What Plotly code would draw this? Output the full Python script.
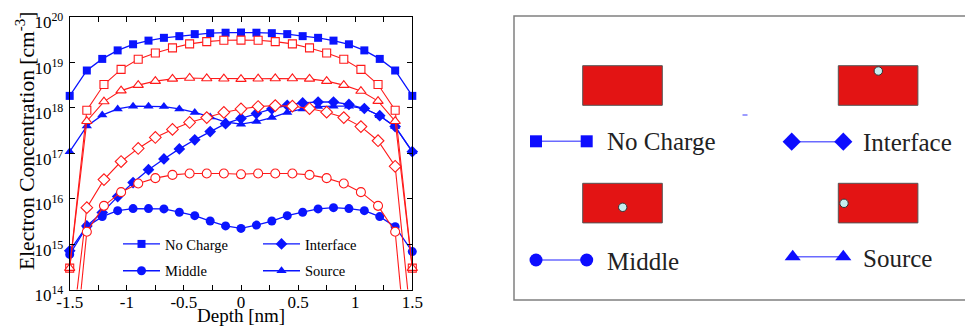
import plotly.graph_objects as go

# ---------------- data ----------------
x_blue = [-1.5, -1.35, -1.215, -1.08, -0.945, -0.81, -0.675, -0.54, -0.405, -0.27, -0.135, 0.0,
          0.135, 0.27, 0.405, 0.54, 0.675, 0.81, 0.945, 1.08, 1.215, 1.35, 1.5]
x_red = [-1.5, -1.35, -1.2, -1.05, -0.9, -0.75, -0.6, -0.45, -0.3, -0.15, 0.0,
         0.15, 0.3, 0.45, 0.6, 0.75, 0.9, 1.05, 1.2, 1.35, 1.5]

blue_no_charge = [1.8e18, 6.5e18, 1.17e19, 1.8e19, 2.45e19, 2.95e19, 3.4e19, 3.7e19, 4.1e19, 4.3e19, 4.4e19, 4.45e19,
                  4.4e19, 4.3e19, 4.1e19, 3.7e19, 3.4e19, 2.95e19, 2.45e19, 1.8e19, 1.17e19, 6.5e18, 1.8e18]
blue_middle = [5.9e14, 2.4e15, 4.0e15, 5.4e15, 6.0e15, 6.0e15, 5.9e15, 5.0e15, 4.2e15, 3.2e15, 2.5e15, 2.2e15,
               2.6e15, 3.2e15, 4.2e15, 5.0e15, 5.9e15, 6.3e15, 6.0e15, 5.4e15, 4.0e15, 2.4e15, 6.8e14]
blue_interface = [7.1e14, 2.5e15, 4.9e15, 1.1e16, 2.24e16, 4.3e16, 7.4e16, 1.23e17, 1.95e17, 2.95e17, 4.4e17, 5.75e17,
                  7.4e17, 9.3e17, 1.12e18, 1.26e18, 1.32e18, 1.32e18, 1.17e18, 9.5e17, 6.6e17, 3.8e17, 1.07e17]
blue_source = [1.07e17, 3.9e17, 6.8e17, 9.3e17, 1.07e18, 1.07e18, 1.05e18, 9.3e17, 7.8e17, 6.2e17, 4.8e17, 4.3e17,
               4.9e17, 6.0e17, 7.8e17, 9.3e17, 1.05e18, 1.07e18, 1.07e18, 9.5e17, 6.6e17, 3.8e17, 1.07e17]

red_no_charge = [2.95e14, 8.7e17, 3.2e18, 6.9e18, 1.15e19, 1.58e19, 2.04e19, 2.5e19, 2.8e19, 3.0e19, 3.02e19,
                 3.0e19, 2.8e19, 2.5e19, 2.04e19, 1.58e19, 1.15e19, 6.9e18, 3.2e18, 8.7e17, 2.95e14]
red_source = [2.95e14, 5.0e17, 1.35e18, 2.35e18, 3.1e18, 3.8e18, 4.25e18, 4.45e18, 4.35e18, 4.3e18, 4.2e18,
              4.3e18, 4.35e18, 4.35e18, 4.25e18, 3.8e18, 3.1e18, 2.3e18, 1.38e18, 5.0e17, 2.95e14]
red_interface = [4.0e12, 6.3e15, 2.6e16, 6.5e16, 1.26e17, 2.2e17, 3.3e17, 4.7e17, 6.0e17, 7.8e17, 9.3e17,
                 1.05e18, 1.1e18, 1.07e18, 9.5e17, 7.9e17, 6.0e17, 3.8e17, 1.86e17, 5.1e16, 1.0e13]
red_middle = [3.0e11, 1.86e15, 6.9e15, 1.38e16, 2.14e16, 2.8e16, 3.3e16, 3.55e16, 3.55e16, 3.55e16, 3.4e16,
              3.55e16, 3.55e16, 3.55e16, 3.3e16, 2.8e16, 2.14e16, 1.38e16, 6.9e15, 1.86e15, 2.0e11]

series_names = ["No Charge", "Interface", "Middle", "Source"]
x_tick_vals = [-1.5, -1, -0.5, 0, 0.5, 1, 1.5]
x_tick_text = ["-1.5", "-1", "-0.5", "0", "0.5", "1", "1.5"]
y_tick_exps = [14, 15, 16, 17, 18, 19, 20]

W, H = 965, 327
FONT = "Liberation Serif"
BLUE = "#0a14ff"
RED = "#ff1a1a"


def px(x):
    return x / W


def py(y):
    return 1 - y / H


fig = go.Figure()

# ---------------- main plot ----------------
blue_specs = [
    ("No Charge", blue_no_charge, "square", 8, "legend"),
    ("Middle", blue_middle, "circle", 9, "legend"),
    ("Interface", blue_interface, "diamond", 9, "legend2"),
    ("Source", blue_source, "triangle-up", 9, "legend2"),
]
for name, vals, sym, sz, lg in blue_specs:
    fig.add_trace(go.Scatter(
        x=x_blue, y=vals, mode="lines+markers", name=name,
        line=dict(color=BLUE, width=1.3),
        marker=dict(symbol=sym, size=sz, color=BLUE, line=dict(width=0)),
        cliponaxis=False, legend=lg, legendgroup=name,
    ))

red_specs = [
    (red_no_charge, "square", 8, False),
    (red_source, "triangle-up", 9, False),
    (red_interface, "diamond", 9, True),
    (red_middle, "circle", 9, True),
]
for vals, sym, sz, clip in red_specs:
    fig.add_trace(go.Scatter(
        x=x_red, y=vals, mode="lines+markers", showlegend=False,
        line=dict(color=RED, width=1.1),
        marker=dict(symbol=sym, size=sz, color="white", line=dict(color=RED, width=1.1)),
        cliponaxis=clip,
    ))

fig.update_layout(
    width=W, height=H,
    margin=dict(l=0, r=0, t=0, b=0),
    paper_bgcolor="white", plot_bgcolor="rgba(0,0,0,0)",
    font=dict(family=FONT, color="black"),
    xaxis=dict(
        domain=[px(69.7), px(412.3)], range=[-1.5, 1.5],
        tickvals=x_tick_vals, ticktext=x_tick_text,
        ticks="inside", ticklen=5, tickcolor="black", tickwidth=1,
        minor=dict(tickvals=[-1.25, -0.75, -0.25, 0.25, 0.75, 1.25], ticks="inside", ticklen=5,
                   tickcolor="black", showgrid=False),
        showline=True, linecolor="black", linewidth=1, mirror="ticks",
        showgrid=False, zeroline=False, tickfont=dict(size=17, family=FONT),
        ticklabelstandoff=-3,
        automargin=False,
    ),
    yaxis=dict(
        domain=[py(289.5), py(16.5)], type="log", range=[14, 20],
        tickvals=[10.0 ** e for e in y_tick_exps],
        ticktext=["10<sup>%d</sup>" % e for e in y_tick_exps],
        ticks="inside", ticklen=5, tickcolor="black", tickwidth=1,
        showline=True, linecolor="black", linewidth=1, mirror="ticks",
        showgrid=False, zeroline=False, tickfont=dict(size=17, family=FONT),
        ticklabelshift=6, ticklabelstandoff=2,
        automargin=False,
    ),
    legend=dict(x=px(118), y=py(228), xanchor="left", yanchor="top",
                bgcolor="rgba(0,0,0,0)", font=dict(size=14.5, family=FONT),
                tracegroupgap=5, itemwidth=37),
    legend2=dict(x=px(258), y=py(228), xanchor="left", yanchor="top",
                 bgcolor="rgba(0,0,0,0)", font=dict(size=14.5, family=FONT),
                 tracegroupgap=5, itemwidth=37),
)

# axis titles
fig.add_annotation(x=px(241), y=0, xref="paper", yref="paper", text="Depth [nm]",
                   xanchor="center", yanchor="bottom", borderpad=0,
                   showarrow=False, font=dict(size=19, family=FONT))
fig.add_annotation(x=px(25), y=py(141), xref="paper", yref="paper",
                   text="Electron Concentration [cm<sup>-3</sup>]", textangle=-90,
                   xanchor="center", yanchor="middle",
                   showarrow=False, font=dict(size=21.5, family=FONT))

# ---------------- right schematic panel ----------------
shapes = []
shapes.append(dict(type="rect", xref="paper", yref="paper", x0=px(514), x1=px(967), y0=py(300), y1=py(16),
                   line=dict(color="#808080", width=1.5), fillcolor="rgba(0,0,0,0)"))
for (x0, y0) in [(582.7, 65.7), (838.3, 65.7), (582.7, 183.3), (838.3, 183.3)]:
    shapes.append(dict(type="rect", xref="paper", yref="paper", x0=px(x0), x1=px(x0 + 79.6),
                       y0=py(y0 + 39.6), y1=py(y0), line=dict(color="#555555", width=1),
                       fillcolor="#e31414"))
for (cx, cy) in [(878.3, 71), (622.7, 207.3), (844, 203.3)]:
    shapes.append(dict(type="circle", xref="paper", yref="paper", x0=px(cx - 4.2), x1=px(cx + 4.2),
                       y0=py(cy + 4.2), y1=py(cy - 4.2), line=dict(color="#333333", width=1),
                       fillcolor="#c6eef0"))
shapes.append(dict(type="line", xref="paper", yref="paper", x0=px(742.5), x1=px(747.5), y0=py(115), y1=py(115),
                   line=dict(color="#5a5aff", width=1.2)))
fig.update_layout(shapes=shapes)

# legend glyphs of the schematic (pixel coordinate overlay axes)
fig.update_layout(
    xaxis2=dict(domain=[0, 1], range=[0, W], visible=False, fixedrange=True),
    yaxis2=dict(domain=[0, 1], range=[H, 0], visible=False, fixedrange=True, anchor="x2"),
)
glyphs = [
    ((536, 586.7), 141.3, "square", 12),
    ((791.7, 843.3), 141.7, "diamond", 14),
    ((536, 586.7), 260, "circle", 13),
    ((792.7, 843.3), 256.7, "triangle-up", 14),
]
for (gx, gy, sym, sz) in glyphs:
    fig.add_trace(go.Scatter(
        x=list(gx), y=[gy, gy], xaxis="x2", yaxis="y2", mode="lines+markers", showlegend=False,
        line=dict(color="#6a6aff", width=1.5),
        marker=dict(symbol=sym, size=sz, color="#0d0dff", line=dict(width=0)),
        hoverinfo="skip", cliponaxis=False,
    ))

for (tx, ty, label) in [(605, 141, "No Charge"), (861, 142, "Interface"),
                        (605, 261, "Middle"), (861, 258, "Source")]:
    fig.add_annotation(x=px(tx), y=py(ty), xref="paper", yref="paper", text=label, showarrow=False,
                       xanchor="left", yanchor="middle", font=dict(size=25, family=FONT, color="#222222"))

fig.write_html("out.html")
